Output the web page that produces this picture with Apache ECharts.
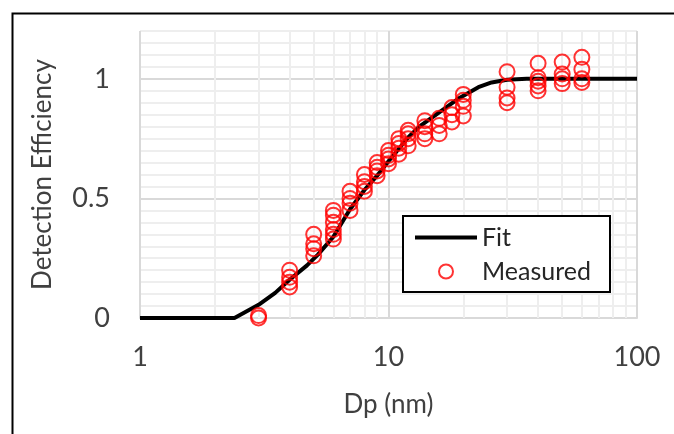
<!DOCTYPE html>
<html>
<head>
<meta charset="utf-8">
<script src="https://cdn.jsdelivr.net/npm/echarts@6/dist/echarts.min.js"></script>
<style>
  html, body { margin: 0; padding: 0; background: #fff; }
  #chart { width: 674px; height: 434px; }
</style>
</head>
<body>
<div id="chart"></div>
<script>
// fitted curve
const fitDp  = [1, 2.4, 3, 3.5, 4, 4.7, 5.2, 6, 7, 8, 9, 10, 12, 13.3, 16, 19.3, 23, 26, 30, 36, 100];
const fitEff = [0, 0, 0.055, 0.105, 0.16, 0.22, 0.265, 0.34, 0.455, 0.535, 0.595, 0.655, 0.755, 0.8, 0.86, 0.92, 0.965, 0.985, 0.996, 1, 1];

// measured points (diameter, efficiency)
const measuredDp = [
  3, 3,
  4, 4, 4, 4,
  5, 5, 5, 5,
  6, 6, 6, 6, 6, 6,
  7, 7, 7, 7,
  8, 8, 8, 8,
  9, 9, 9, 9,
  10, 10, 10, 10,
  11, 11, 11, 11,
  12, 12, 12, 12,
  14, 14, 14, 14,
  16, 16, 16,
  18, 18, 18,
  20, 20, 20, 20,
  30, 30, 30, 30,
  40, 40, 40, 40, 40,
  50, 50, 50, 50,
  60, 60, 60, 60
];
const measuredEff = [
  0, 0.01,
  0.2, 0.17, 0.15, 0.13,
  0.35, 0.31, 0.29, 0.26,
  0.45, 0.43, 0.4, 0.37, 0.35, 0.33,
  0.53, 0.5, 0.48, 0.45,
  0.6, 0.57, 0.55, 0.53,
  0.65, 0.63, 0.615, 0.595,
  0.7, 0.68, 0.665, 0.645,
  0.75, 0.73, 0.71, 0.685,
  0.785, 0.77, 0.75, 0.72,
  0.825, 0.8, 0.77, 0.75,
  0.835, 0.805, 0.77,
  0.88, 0.85, 0.82,
  0.935, 0.91, 0.885, 0.845,
  1.03, 0.965, 0.92, 0.9,
  1.065, 1.005, 0.99, 0.97, 0.95,
  1.07, 1.02, 1, 0.98,
  1.09, 1.04, 1, 0.985
];

const xTickLabels = [1, 10, 100];
const yTickLabels = [0, 0.5, 1];
// minor log gridlines
const xMinor = [2, 3, 4, 5, 6, 7, 8, 9, 20, 30, 40, 50, 60, 70, 80, 90];

const FONT = 'Lato, "Noto Sans", sans-serif';
const chart = echarts.init(document.getElementById('chart'));

const majorGrid = '#d9d9d9';
const minorGrid = '#eeeeee';
const yColors = [majorGrid].concat(new Array(9).fill(minorGrid));

chart.setOption({
  animation: false,
  backgroundColor: '#fff',
  graphic: [{
    type: 'rect',
    left: 10, top: 11,
    shape: { width: 1000, height: 1000 },
    style: { fill: 'none', stroke: '#000', lineWidth: 2 }
  }],
  grid: { left: 140, right: 37, top: 31, bottom: 116 },
  legend: {
    orient: 'vertical',
    left: 403, top: 216,
    padding: [9, 19, 8, 10],
    itemGap: 9,
    itemWidth: 62,
    itemHeight: 14,
    borderColor: '#000',
    borderWidth: 2,
    backgroundColor: '#fff',
    z: 10,
    textStyle: { fontFamily: FONT, fontSize: 25, color: '#262626' },
    data: [
      {
        name: 'Fit',
        itemStyle: { color: 'rgba(0,0,0,0)', borderWidth: 0 },
        lineStyle: { color: '#000', width: 4 }
      },
      { name: 'Measured', itemStyle: { color: 'rgba(0,0,0,0)', borderColor: '#ff0000', borderWidth: 2 } }
    ]
  },
  xAxis: {
    type: 'log',
    logBase: 10,
    min: 1, max: 100,
    name: 'Dp (nm)',
    nameLocation: 'middle',
    nameGap: 74,
    nameTextStyle: { fontFamily: FONT, fontSize: 26, color: '#404040' },
    axisLine: { show: true, lineStyle: { color: majorGrid, width: 2 } },
    axisTick: { show: false },
    axisLabel: {
      margin: 26,
      fontFamily: FONT, fontSize: 27, color: '#404040',
      formatter: v => xTickLabels.includes(Math.round(v)) ? String(Math.round(v)) : ''
    },
    splitLine: { show: true, lineStyle: { color: majorGrid, width: 2 } }
  },
  yAxis: {
    type: 'value',
    min: 0, max: 1.2, interval: 0.05,
    name: 'Detection Efficiency',
    nameLocation: 'middle',
    nameGap: 84,
    nameTextStyle: { fontFamily: FONT, fontSize: 26, color: '#404040' },
    axisLine: { show: false },
    axisTick: { show: false },
    axisLabel: {
      margin: 30,
      fontFamily: FONT, fontSize: 27, color: '#404040',
      formatter: v => {
        const hit = yTickLabels.find(t => Math.abs(t - v) < 1e-6);
        return hit === undefined ? '' : String(hit);
      }
    },
    splitLine: { show: true, lineStyle: { color: yColors, width: 2 } }
  },
  series: [
    {
      name: 'minor',
      type: 'line',
      data: [],
      silent: true,
      z: 1,
      markLine: {
        silent: true,
        z: 1,
        symbol: 'none',
        label: { show: false },
        lineStyle: { color: minorGrid, width: 2, type: 'solid' },
        data: xMinor.map(v => ({ xAxis: v }))
      }
    },
    {
      name: 'Fit',
      type: 'line',
      symbol: 'none',
      z: 3,
      lineStyle: { color: '#000', width: 4 },
      itemStyle: { color: '#000' },
      data: fitDp.map((d, i) => [d, fitEff[i]])
    },
    {
      name: 'Measured',
      type: 'scatter',
      symbol: 'circle',
      symbolSize: 15,
      z: 4,
      itemStyle: { color: 'rgba(0,0,0,0)', borderColor: '#ff0000', borderWidth: 2 },
      data: measuredDp.map((d, i) => [d, measuredEff[i]])
    }
  ]
});
</script>
</body>
</html>
